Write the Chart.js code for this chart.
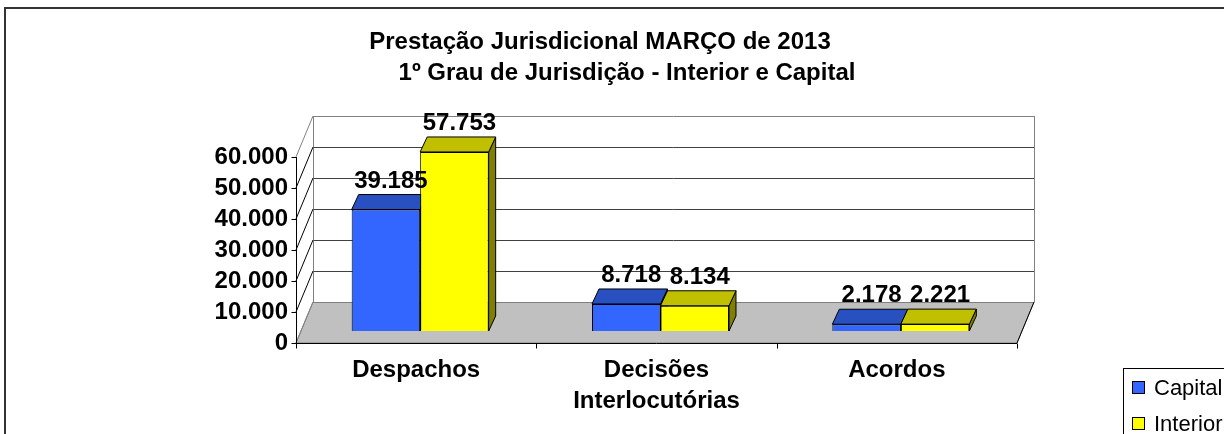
<!DOCTYPE html>
<html>
<head>
<meta charset="utf-8">
<script src="https://cdn.jsdelivr.net/npm/chart.js@4.4.0/dist/chart.umd.min.js"></script>
<style>
  html, body { margin: 0; padding: 0; background: #fff; }
  canvas { display: block; }
</style>
</head>
<body>
<canvas id="chart" width="1224" height="434"></canvas>
<script>
// dados do gráfico
const categories = ['Despachos', ['Decisões', 'Interlocutórias'], 'Acordos'];
const seriesNames = ['Capital', 'Interior'];
const capital = [39185, 8718, 2178];
const interior = [57753, 8134, 2221];
const titleLines = ['Prestação Jurisdicional MARÇO de 2013', '1º Grau de Jurisdição - Interior e Capital'];
const yMax = 60000;
const yStep = 10000;

// cores (frente / topo / lado)
const faces = [
  { front: '#3366ff', top: '#2850c0', side: '#1f3f99' },
  { front: '#ffff00', top: '#c0c000', side: '#808000' },
];

// deslocamentos da perspectiva 3D, relativos ao plano das barras
const FRONT = { dx: -4, dy: 12 };
const BACK = { dx: 13, dy: -29 };
const DEPTH = { dx: 7, dy: -15 };

const BOLD = { family: "'Liberation Sans', Arial, sans-serif", size: 24, weight: 'bold', lineHeight: 1.3 };

function fmt(v) {
  return String(v).replace(/\B(?=(\d{3})+(?!\d))/g, '.');
}

function poly(ctx, pts, fill, stroke) {
  ctx.beginPath();
  pts.forEach((p, i) => i ? ctx.lineTo(p[0], p[1]) : ctx.moveTo(p[0], p[1]));
  ctx.closePath();
  if (fill) { ctx.fillStyle = fill; ctx.fill(); }
  if (stroke) { ctx.strokeStyle = stroke; ctx.stroke(); }
}

function line(ctx, x1, y1, x2, y2, color) {
  ctx.beginPath();
  ctx.moveTo(x1, y1);
  ctx.lineTo(x2, y2);
  ctx.strokeStyle = color;
  ctx.stroke();
}

const box3d = {
  id: 'box3d',
  beforeDatasetsDraw(chart) {
    const { ctx, chartArea: a, scales: { x, y } } = chart;
    const y0 = y.getPixelForValue(0);
    const yTop = y.getPixelForValue(yMax);
    const fl = a.left + FRONT.dx, fr = a.right + FRONT.dx;
    const bl = a.left + BACK.dx, br = a.right + BACK.dx;

    ctx.save();

    // moldura externa
    ctx.lineWidth = 2;
    ctx.strokeStyle = '#333';
    ctx.strokeRect(5, 8, 1400, 600);
    ctx.lineWidth = 1;

    // piso
    poly(ctx, [[fl, y0 + FRONT.dy], [fr, y0 + FRONT.dy], [br, y0 + BACK.dy], [bl, y0 + BACK.dy]], '#c0c0c0', '#808080');

    // parede do fundo
    ctx.fillStyle = '#fff';
    ctx.fillRect(bl, yTop + BACK.dy, br - bl, y0 - yTop);
    y.ticks.forEach(t => {
      const py = Math.round(y.getPixelForValue(t.value) + BACK.dy) + 0.5;
      const edge = t.value === 0 || t.value === yMax;
      line(ctx, bl, py, br, py, edge ? '#808080' : '#404040');
    });
    line(ctx, bl + 0.5, yTop + BACK.dy, bl + 0.5, y0 + BACK.dy, '#808080');
    line(ctx, br + 0.5, yTop + BACK.dy, br + 0.5, y0 + BACK.dy, '#808080');

    // parede lateral
    y.ticks.forEach(t => {
      const py = y.getPixelForValue(t.value);
      const edge = t.value === 0 || t.value === yMax;
      line(ctx, fl, py + FRONT.dy, bl, py + BACK.dy, edge ? '#808080' : '#000');
    });
    line(ctx, fr, y0 + FRONT.dy, br, y0 + BACK.dy, '#000');

    // eixo Y frontal
    const ax = Math.round(fl) + 0.5;
    line(ctx, ax, yTop + FRONT.dy, ax, y0 + FRONT.dy, '#000');
    y.ticks.forEach(t => {
      const py = Math.round(y.getPixelForValue(t.value) + FRONT.dy) + 0.5;
      line(ctx, ax - 5, py, ax, py, '#000');
    });

    // eixo X frontal
    const ay = Math.round(y0 + FRONT.dy) + 0.5;
    line(ctx, fl, ay, fr, ay, '#000');
    const step = (a.right - a.left) / categories.length;
    for (let i = 0; i <= categories.length; i++) {
      const px = Math.round(fl + i * step) + 0.5;
      line(ctx, px, ay, px, ay + 5, '#000');
    }

    // faces de topo e lateral das barras
    chart.data.datasets.forEach((ds, i) => {
      const meta = chart.getDatasetMeta(i);
      meta.data.forEach(bar => {
        const { x: cx, y: top, base, width } = bar.getProps(['x', 'y', 'base', 'width'], true);
        const l = cx - width / 2, r = cx + width / 2;
        poly(ctx, [[r, top], [r + DEPTH.dx, top + DEPTH.dy], [r + DEPTH.dx, base + DEPTH.dy], [r, base]], faces[i].side, '#000');
        poly(ctx, [[l, top], [r, top], [r + DEPTH.dx, top + DEPTH.dy], [l + DEPTH.dx, top + DEPTH.dy]], faces[i].top, '#000');
      });
    });
    ctx.restore();
  },
  afterDatasetsDraw(chart) {
    const { ctx } = chart;
    ctx.save();
    ctx.font = `bold ${BOLD.size}px ${BOLD.family}`;
    ctx.fillStyle = '#000';
    ctx.textAlign = 'center';
    ctx.textBaseline = 'alphabetic';
    chart.data.datasets.forEach((ds, i) => {
      chart.getDatasetMeta(i).data.forEach((bar, j) => {
        const { x: cx, y: top } = bar.getProps(['x', 'y'], true);
        ctx.fillText(fmt(ds.data[j]), cx + 5, top + DEPTH.dy - 7);
      });
    });

    // título
    ctx.textBaseline = 'middle';
    ctx.fillText(titleLines[0], 600, 42);
    ctx.fillText(titleLines[1], 627, 73);

    // legenda
    ctx.lineWidth = 1;
    ctx.strokeStyle = '#000';
    ctx.strokeRect(1123.5, 368.5, 200, 100);
    ctx.font = `22px ${BOLD.family}`;
    ctx.textAlign = 'left';
    chart.data.datasets.forEach((ds, i) => {
      const cy = 388 + i * 36;
      ctx.fillStyle = ds.backgroundColor;
      ctx.fillRect(1132.5, cy - 6.5, 12, 12);
      ctx.strokeRect(1132.5, cy - 6.5, 12, 12);
      ctx.fillStyle = '#000';
      ctx.fillText(ds.label, 1154, cy + 1);
    });
    ctx.restore();
  }
};

new Chart(document.getElementById('chart'), {
  type: 'bar',
  data: {
    labels: categories,
    datasets: [
      { label: seriesNames[0], data: capital, backgroundColor: faces[0].front, borderColor: '#000', borderWidth: 1 },
      { label: seriesNames[1], data: interior, backgroundColor: faces[1].front, borderColor: '#000', borderWidth: 1 },
    ],
  },
  options: {
    responsive: false,
    animation: false,
    categoryPercentage: 0.57,
    barPercentage: 1,
    layout: { padding: { left: 0, top: 145, right: 203, bottom: 23 } },
    plugins: {
      legend: { display: false },
      title: { display: false },
      tooltip: { enabled: false },
    },
    scales: {
      x: {
        grid: { display: false, drawTicks: false },
        border: { display: false },
        ticks: { font: BOLD, color: '#000', padding: 24, labelOffset: -4, maxRotation: 0, autoSkip: false },
        afterFit: s => { s.height = 80; },
      },
      y: {
        min: 0,
        max: yMax,
        grid: { display: false, drawTicks: false },
        border: { display: false },
        ticks: { stepSize: yStep, autoSkip: false, font: BOLD, color: '#000', padding: 12, labelOffset: 12, callback: v => fmt(v) },
        afterFit: s => { s.width = 300; },
      },
    },
  },
  plugins: [box3d],
});
</script>
</body>
</html>
